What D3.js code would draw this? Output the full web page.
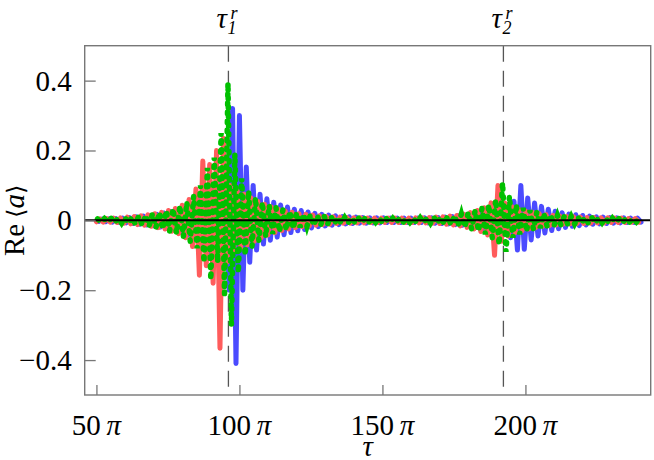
<!DOCTYPE html>
<html>
<head>
<meta charset="utf-8">
<script src="https://cdn.jsdelivr.net/npm/d3@7"></script>
<style>
  body { margin: 0; background: #fff; }
  svg text { font-family: 'Liberation Serif', 'DejaVu Serif', serif; }
</style>
</head>
<body>
<div id="chart"></div>
<script>
// tick labels (multiples of pi) and y ticks
const tauTicks = [50, 100, 150, 200];
const yTicks = [-0.4, -0.2, 0, 0.2, 0.4];
// resonance times tau_1^r, tau_2^r (in units of pi)
const resNames = ["1", "2"];
const resTaus = [96.15, 192.3];

// sampling of each curve: first tau (units of pi) and spacing
const redStart = 50.0, greenStart = 50.4, blueStart = 50.8;
const tauStep = 1.2;

// Re<a>, one value per turning point
const redVals = [
  -.004, .004, -.005, .005, -.005, .006, -.006, .007, -.008, .009,
  -.010, .011, -.012, .013, -.014, .016, -.017, .019, -.021, .023,
  -.025, .028, -.031, .034, -.038, .043, -.050, .060, -.075, .090,
  -.157, .170, -.130, .160, -.180, .200, -.366, .235, -.120, .100,
  -.090, .085, -.080, .075, -.070, .065, -.060, .055, -.050, .046,
  -.042, .038, -.035, .032, -.029, .027, -.025, .023, -.021, .019,
  -.018, .017, -.016, .015, -.014, .013, -.012, .011, -.011, .010,
  -.009, .009, -.008, .008, -.008, .007, -.007, .007, -.007, .006,
  -.006, .006, -.006, .006, -.006, .006, -.006, .006, -.006, .006,
  -.006, .006, -.006, .007, -.007, .007, -.007, .008, -.008, .009,
  -.009, .010, -.011, .012, -.013, .014, -.016, .018, -.020, .022,
  -.025, .028, -.032, .036, -.042, .050, -.100, .100, -.060, .050,
  -.045, .040, -.035, .032, -.030, .027, -.025, .023, -.021, .019,
  -.017, .016, -.015, .014, -.013, .012, -.011, .011, -.010, .010,
  -.009, .009, -.009, .008, -.008, .008, -.007, .007, -.007, .007,
  -.006, .006, -.006, .006, -.006, .005, -.005, .005, -.005
];
const greenVals = [
  .004, -.005, .005, -.005, .006, -.006, .007, -.008, .008, -.009,
  .010, -.011, .012, -.014, .015, -.017, .019, -.021, .023, -.025,
  .028, -.031, .034, -.038, .042, -.047, .052, -.060, .070, -.080,
  .100, -.120, .150, -.170, .180, -.120, .250, -.210, .393, -.300,
  .190, -.150, .120, -.100, .085, -.075, .065, -.058, .052, -.047,
  .043, -.039, .036, -.033, .030, -.028, .026, -.024, .022, -.020,
  .018, -.017, .016, -.015, .014, -.013, .012, -.011, .011, -.010,
  .009, -.009, .008, -.008, .008, -.007, .007, -.007, .007, -.006,
  .006, -.006, .006, -.006, .006, -.006, .006, -.006, .006, -.006,
  .006, -.006, .006, -.007, .007, -.007, .008, -.008, .009, -.009,
  .010, -.011, .012, -.013, .014, -.016, .018, -.020, .022, -.025,
  .028, -.031, .035, -.040, .045, -.050, .060, -.070, .108, -.090,
  .070, -.050, .045, -.040, .036, -.032, .029, -.026, .024, -.022,
  .020, -.018, .016, -.015, .014, -.013, .012, -.011, .011, -.010,
  .009, -.009, .009, -.008, .008, -.008, .007, -.007, .007, -.007,
  .006, -.006, .006, -.006, .006, -.005, .005, -.005, .005
];
const blueVals = [
  -.003, .004, -.004, .004, -.005, .005, -.006, .006, -.007, .008,
  -.009, .010, -.011, .012, -.013, .014, -.015, .017, -.019, .021,
  -.023, .025, -.028, .031, -.034, .038, -.042, .047, -.053, .060,
  -.070, .080, -.090, .100, -.110, .120, -.140, .150, -.200, .320,
  -.410, .300, -.200, .153, -.120, .100, -.085, .075, -.068, .062,
  -.057, .052, -.048, .044, -.041, .038, -.035, .032, -.030, .028,
  -.026, .024, -.022, .020, -.018, .017, -.016, .015, -.014, .013,
  -.012, .011, -.010, .010, -.009, .009, -.008, .008, -.008, .007,
  -.007, .007, -.007, .007, -.006, .006, -.006, .006, -.006, .006,
  -.006, .006, -.006, .006, -.006, .007, -.007, .007, -.008, .008,
  -.009, .009, -.010, .011, -.012, .013, -.014, .015, -.017, .019,
  -.020, .022, -.024, .026, -.028, .030, -.033, .036, -.040, .045,
  -.050, .055, -.085, .100, -.083, .064, -.056, .050, -.045, .040,
  -.036, .032, -.029, .026, -.024, .022, -.020, .018, -.017, .016,
  -.015, .014, -.013, .012, -.011, .010, -.010, .009, -.009, .008,
  -.008, .007, -.007, .007, -.006, .006, -.006, .006, -.005
];

let width = 654, height = 460;
let frame = { left: 84.7, right: 650.7, top: 45.7, bottom: 395 };

let svg = d3.select('#chart')
  .append('svg')
  .attr('width', width)
  .attr('height', height);

let x = d3.scaleLinear().domain([45.9, 243.8]).range([frame.left, frame.right]);
let y = d3.scaleLinear().domain([-0.5, 0.5]).range([frame.bottom, frame.top]);

// dashed resonance markers (behind the curves)
svg.selectAll('line.res')
  .data(resTaus)
  .enter().append('line')
  .attr('class', 'res')
  .attr('x1', d => x(d)).attr('x2', d => x(d))
  .attr('y1', frame.top).attr('y2', frame.bottom)
  .attr('stroke', '#555')
  .attr('stroke-width', 1.3)
  .attr('stroke-dasharray', '16,9');

// curves
function series(vals, start) {
  return vals.map((v, i) => ({ t: start + i * tauStep, v: v }));
}
let line = d3.line().x(d => x(d.t)).y(d => y(d.v));

let plot = svg.append('g');
plot.append('path')
  .datum(series(blueVals, blueStart))
  .attr('d', line)
  .attr('fill', 'none')
  .attr('stroke', '#4b4bff')
  .attr('stroke-width', 5)
  .attr('stroke-linejoin', 'round')
  .attr('stroke-linecap', 'round');
plot.append('path')
  .datum(series(redVals, redStart))
  .attr('d', line)
  .attr('fill', 'none')
  .attr('stroke', '#ff5c5c')
  .attr('stroke-width', 5)
  .attr('stroke-linejoin', 'round')
  .attr('stroke-linecap', 'round');
plot.append('path')
  .datum(series(greenVals, greenStart))
  .attr('d', line)
  .attr('fill', 'none')
  .attr('stroke', '#00c000')
  .attr('stroke-width', 5.5)
  .attr('stroke-linecap', 'round')
  .attr('stroke-dasharray', '1.5,7.5');

// zero line
svg.append('line')
  .attr('x1', frame.left).attr('x2', frame.right)
  .attr('y1', y(0)).attr('y2', y(0))
  .attr('stroke', '#000')
  .attr('stroke-width', 2);

// frame
svg.append('rect')
  .attr('x', frame.left).attr('y', frame.top)
  .attr('width', frame.right - frame.left)
  .attr('height', frame.bottom - frame.top)
  .attr('fill', 'none')
  .attr('stroke', '#777')
  .attr('stroke-width', 1.4);

// x axis: inward ticks, labels drawn by hand below
let xAxis = svg.append('g')
  .attr('transform', `translate(0,${frame.bottom})`)
  .call(d3.axisBottom(x).tickValues(tauTicks).tickSizeInner(-10).tickSizeOuter(0).tickFormat(''));
xAxis.select('.domain').remove();
xAxis.selectAll('.tick text').remove();
xAxis.selectAll('.tick line').attr('stroke', '#777').attr('stroke-width', 1.3);

let xl = svg.selectAll('text.xlab')
  .data(tauTicks)
  .enter().append('text')
  .attr('class', 'xlab')
  .attr('x', d => x(d))
  .attr('y', frame.bottom + 40)
  .attr('text-anchor', 'middle')
  .attr('font-size', 29);
xl.append('tspan').text(d => d + '\u2009');
xl.append('tspan').attr('font-style', 'italic').text('\u03c0');

svg.append('text')
  .attr('x', (frame.left + frame.right) / 2)
  .attr('y', 456)
  .attr('text-anchor', 'middle')
  .attr('font-size', 29)
  .attr('font-style', 'italic')
  .text('\u03c4');

// y axis: inward ticks, labels drawn by hand
let yAxis = svg.append('g')
  .attr('transform', `translate(${frame.left},0)`)
  .call(d3.axisLeft(y).tickValues(yTicks).tickSizeInner(-11).tickSizeOuter(0).tickFormat(''));
yAxis.select('.domain').remove();
yAxis.selectAll('.tick text').remove();
yAxis.selectAll('.tick line').attr('stroke', '#777').attr('stroke-width', 1.3);

svg.selectAll('text.ylab')
  .data(yTicks)
  .enter().append('text')
  .attr('class', 'ylab')
  .attr('x', frame.left - 13)
  .attr('y', d => y(d) + 10)
  .attr('text-anchor', 'end')
  .attr('font-size', 29)
  .text(d => d === 0 ? '0' : d3.format('.1f')(d).replace('-', '\u2212'));

let yl = svg.append('text')
  .attr('transform', `translate(24,${y(0)}) rotate(-90)`)
  .attr('text-anchor', 'middle')
  .attr('font-size', 29);
yl.append('tspan').text('Re\u2009');
yl.append('tspan').attr('font-size', 24).text('\u27e8');
yl.append('tspan').attr('font-style', 'italic').text('a');
yl.append('tspan').attr('font-size', 24).text('\u27e9');

// resonance labels on top
let resLab = svg.selectAll('g.rlab')
  .data(resTaus)
  .enter().append('g')
  .attr('class', 'rlab')
  .attr('transform', d => `translate(${x(d)},0)`);
resLab.append('text')
  .attr('x', -12).attr('y', 28)
  .attr('font-size', 29).attr('font-style', 'italic')
  .text('\u03c4');
resLab.append('text')
  .attr('x', -1).attr('y', 34)
  .attr('font-size', 18).attr('font-style', 'italic')
  .text((d, i) => resNames[i]);
resLab.append('text')
  .attr('x', 2).attr('y', 19)
  .attr('font-size', 18).attr('font-style', 'italic')
  .text('r');
</script>
</body>
</html>
